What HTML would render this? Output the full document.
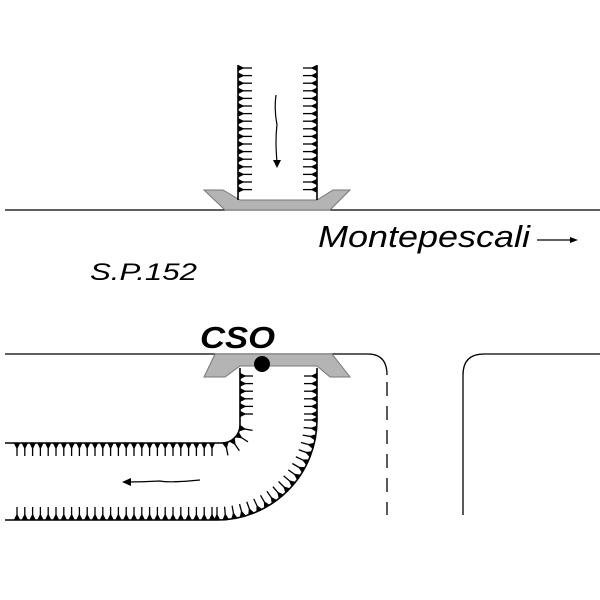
<!DOCTYPE html>
<html><head><style>
html,body{margin:0;padding:0;background:#fff;width:600px;height:600px;overflow:hidden}
svg{display:block}
text{font-family:"Liberation Sans",sans-serif;font-style:italic}
</style></head><body>
<svg id="s" width="600" height="600" viewBox="0 0 600 600">
<g stroke="#000" stroke-width="1.3" fill="none">
<line x1="5" y1="210" x2="600" y2="210"/>
<path d="M5 354 H368 Q387 354 387 375"/>
<line x1="387" y1="382" x2="387" y2="515" stroke-dasharray="14,10"/>
<path d="M463 515 V375 Q463 354 484 354 H600"/>
</g>
<polygon points="204,190 223,190 240,200 317,200 333,190 350,190 330,210 225,210" fill="#b4b4b4" stroke="#777" stroke-width="1"/>
<polygon points="215,354 332,354 350,377 330,377 317,366 240,366 225,377 204,377" fill="#b4b4b4" stroke="#777" stroke-width="1"/>
<g stroke="#000" stroke-width="1.6" fill="none">
<line x1="238" y1="65" x2="238" y2="200"/>
<line x1="317" y1="65" x2="317" y2="200"/>
<path d="M240 368 V425 A18 18 0 0 1 222 443 H5"/>
<path d="M317 368 V420 A100 100 0 0 1 217 520 H5"/>
</g>
<g id="t" stroke="#000" stroke-width="1.3" fill="#000"></g>
<g stroke="#000" stroke-width="1.2" fill="none">
<path d="M276 95 Q274 110 277 125 Q275 140 277 162"/>
<path d="M200 480 Q170 483 160 481 Q140 482 124 482"/>
</g>
<polygon points="273,160 281,160 277,168" fill="#000"/>
<polygon points="122,482 131,478 131,486" fill="#000"/>
<circle cx="262" cy="364" r="8" fill="#000"/>
<text x="318" y="247" font-size="31" textLength="212" lengthAdjust="spacingAndGlyphs">Montepescali</text>
<line x1="537" y1="240" x2="574" y2="240" stroke="#000" stroke-width="1.2"/>
<polygon points="578,240 570,237 570,243" fill="#000"/>
<text x="90" y="280" font-size="24" textLength="107" lengthAdjust="spacingAndGlyphs">S.P.152</text>
<text x="200" y="348" font-size="31" font-weight="bold" textLength="75" lengthAdjust="spacingAndGlyphs">CSO</text>
</svg>
<script>
var g=document.getElementById('t'),h='';
function tooth(x,y,nx,ny,L){var tx=-ny,ty=nx;
h+='<line x1="'+x+'" y1="'+y+'" x2="'+(x+nx*L)+'" y2="'+(y+ny*L)+'"/>';
h+='<polygon points="'+(x-tx*2)+','+(y-ty*2)+' '+(x+tx*2)+','+(y+ty*2)+' '+(x+nx*4)+','+(y+ny*4)+'"/>';}
for(var y=68;y<=196;y+=7.6){tooth(239,y,1,0,13);tooth(316,y,-1,0,13);}
for(var y=376;y<=420;y+=7.6){tooth(241,y,1,0,12);tooth(316,y,-1,0,12);}
for(var a=10;a<=80;a+=23){var r=a*Math.PI/180;tooth(222+19*Math.cos(r),425+19*Math.sin(r),Math.cos(r),Math.sin(r),12);}
for(var x=212;x>=12;x-=7.8){tooth(x,444,0,1,12);}
for(var a=0;a<=90;a+=5){var r=a*Math.PI/180;tooth(217+99*Math.cos(r),420+99*Math.sin(r),-Math.cos(r),-Math.sin(r),12);}
for(var x=212;x>=12;x-=7.8){tooth(x,519,0,-1,12);}
g.innerHTML=h;
</script>
</body></html>
